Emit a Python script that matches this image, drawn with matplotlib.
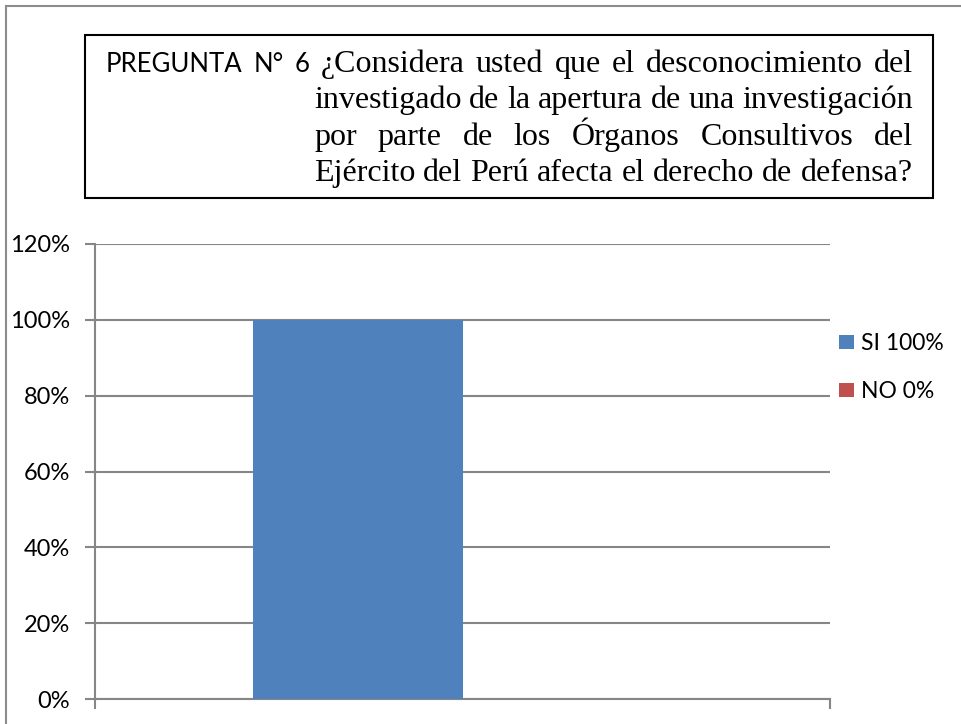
import matplotlib
matplotlib.use("Agg")
import matplotlib.pyplot as plt
from matplotlib.patches import Rectangle
from matplotlib.ticker import PercentFormatter

# data
series = ["SI 100%", "NO 0%"]
values = [1.00, 0.00]
colors = ["#4F81BD", "#C0504D"]
yticks = [0, 0.2, 0.4, 0.6, 0.8, 1.0, 1.2]

title_lead = ["PREGUNTA", "N°", "6"]
title_lines = [
    "¿Considera usted que el desconocimiento del",
    "investigado de la apertura de una investigación",
    "por parte de los Órganos Consultivos del",
    "Ejército del Perú afecta el derecho de defensa?",
]

W, H = 961, 724
SANS = "Lato"
SERIF = "Liberation Serif"
GRID = "#868686"

fig = plt.figure(figsize=(W / 100, H / 100), dpi=100)
ax = fig.add_axes([95 / W, 1 - 699 / H, (830 - 95) / W, (699 - 244) / H])

# one category, two series side by side, gap width 150%
bw = 1 / 3.5
offsets = [-bw / 2, bw / 2]
for name, v, c, off in zip(series, values, colors, offsets):
    ax.bar(off, v, width=bw, color=c, label=name, zorder=3)

ax.set_xlim(-0.5, 0.5)
ax.set_ylim(0, 1.2)
ax.set_yticks(yticks)
ax.yaxis.set_major_formatter(PercentFormatter(1.0, decimals=0))
ax.set_xticks([-0.5, 0.5])
ax.set_xticklabels([])
ax.tick_params(axis="x", length=7, width=1.5, color=GRID, direction="out")
ax.tick_params(axis="y", length=7, width=1.5, color=GRID, labelsize=17, pad=11)
for lab in ax.get_yticklabels():
    lab.set_fontfamily(SANS)
ax.grid(axis="y", color=GRID, linewidth=1.5, zorder=0)
for s in ["top", "right"]:
    ax.spines[s].set_visible(False)
for s in ["left", "bottom"]:
    ax.spines[s].set_color(GRID)
    ax.spines[s].set_linewidth(1.5)

leg = ax.legend(loc="upper left", bbox_to_anchor=(839 / W, 1 - 333 / H),
                bbox_transform=fig.transFigure, frameon=False, borderpad=0,
                borderaxespad=0, prop={"family": SANS, "size": 16.5},
                handlelength=0.65, handleheight=0.55, handletextpad=0.3,
                labelspacing=1.2)

# outer frame (cropped on right and bottom)
fig.patches.append(Rectangle((6 / W, -0.05), 1.1, 1 - 6 / H + 0.05,
                             transform=fig.transFigure, fill=False,
                             edgecolor="#8c8c8c", linewidth=1.5))
# title box
fig.patches.append(Rectangle((85 / W, 1 - 198 / H), (933 - 85) / W, (198 - 35) / H,
                             transform=fig.transFigure, fill=False,
                             edgecolor="black", linewidth=1.5))

renderer = fig.canvas.get_renderer()


def word_width(word, family, size):
    t = fig.text(0, 0, word, family=family, fontsize=size)
    w = t.get_window_extent(renderer).width
    t.remove()
    return w


def put_line(words, x0, x1, y, justify=True):
    widths = [word_width(w, f, s) for w, f, s in words]
    if justify and len(words) > 1:
        gap = (x1 - x0 - sum(widths)) / (len(words) - 1)
    else:
        f, s = words[0][1], words[0][2]
        gap = word_width("a a", f, s) - 2 * word_width("a", f, s)
    x = x0
    for (w, f, s), wd in zip(words, widths):
        fig.text(x / W, 1 - y / H, w, family=f, fontsize=s, va="baseline")
        x += wd + gap


size_serif = 23
size_sans = 18.5
first = [(w, SANS, size_sans) for w in title_lead] + \
        [(w, SERIF, size_serif) for w in title_lines[0].split()]
put_line(first, 106, 913, 72)
baselines = [108, 145, 181]
for line, y, j in zip(title_lines[1:], baselines, [True, True, False]):
    put_line([(w, SERIF, size_serif) for w in line.split()], 314, 913, y, justify=j)

fig.savefig("out.png", dpi=100)
